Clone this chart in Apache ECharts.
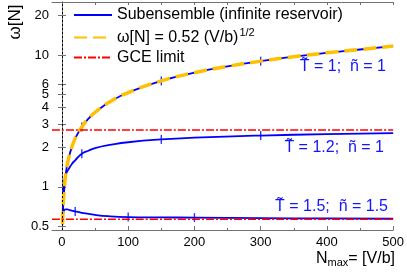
<!DOCTYPE html>
<html><head><meta charset="utf-8">
<script src="https://cdn.jsdelivr.net/npm/echarts@6/dist/echarts.min.js"></script>
<style>html,body{margin:0;padding:0;background:#fff}#c{width:407px;height:274px}</style>
</head><body><div id="c"></div>
<script>
// ---- data ----
var nT1 = [1, 2, 3, 5, 7, 10, 15, 20, 30, 40, 50, 75, 100, 150, 200, 250, 300, 350, 400, 450, 500];
var wT1 = [0.52, 0.74, 0.90, 1.16, 1.38, 1.64, 2.01, 2.33, 2.85, 3.29, 3.68, 4.5, 5.2, 6.37, 7.35, 8.22, 9.0, 9.73, 10.4, 11.03, 11.7];
var wFit = [0.52, 0.74, 0.90, 1.16, 1.38, 1.64, 2.01, 2.33, 2.85, 3.29, 3.68, 4.5, 5.2, 6.37, 7.35, 8.22, 9.0, 9.73, 10.4, 11.03, 11.7];
var nT12 = [1, 2, 3, 5, 7, 10, 15, 20, 30, 40, 50, 75, 100, 150, 200, 300, 400, 500];
var wT12 = [0.53, 0.90, 1.05, 1.20, 1.28, 1.36, 1.49, 1.59, 1.78, 1.88, 1.97, 2.09, 2.18, 2.29, 2.36, 2.45, 2.51, 2.56];
var nT15 = [1, 2, 3, 5, 8, 12, 20, 30, 50, 70, 100, 150, 200, 300, 400, 500];
var wT15 = [0.52, 0.62, 0.66, 0.675, 0.675, 0.665, 0.65, 0.635, 0.612, 0.598, 0.589, 0.586, 0.584, 0.579, 0.575, 0.572];
var markN1 = [30, 150, 300], markW1 = [2.85, 6.37, 9.0];
var markN12 = [30, 150, 300], markW12 = [1.78, 2.29, 2.45];
var markN15 = [20, 100, 200], markW15 = [0.65, 0.589, 0.584];
var gceHigh = 2.70, gceLow = 0.566;
var xTicks = [0, 100, 200, 300, 400, 500];
var xMinor = [50, 150, 250, 350, 450];
var xTop = [0, 50, 100, 150, 200, 250, 300, 350, 400, 450, 500];
var yTicks = [0.5, 1, 2, 3, 4, 5, 6, 10, 20];
var nameSub = 'Subensemble (infinite reservoir)';
var nameFit = 'ω[N] = 0.52 (V/b)^1/2';
var nameGce = 'GCE limit';

function zip(a, b) { return a.map(function (v, i) { return [v, b[i]]; }); }
var FONT = '"Liberation Sans", Arial, Helvetica, sans-serif';
var BLUE = '#0000ff', YEL = '#ffc000', RED = '#ff0000';
var chart = echarts.init(document.getElementById('c'), null, {renderer: 'canvas'});
var frame = {show: true, lineStyle: {color: '#707070', width: 1}};
function lineS(name, data, color, width, type, z) {
  return {type: 'line', name: name, data: data, symbol: 'none', showSymbol: false, smooth: true, z: z || 2,
    lineStyle: {color: color, width: width, type: type}, itemStyle: {color: color}, animation: false};
}
function marks(data) {
  return {type: 'scatter', data: data, symbol: 'rect', symbolSize: [1.4, 9], z: 3,
    itemStyle: {color: BLUE}, animation: false, silent: true};
}
var option = {
  animation: false,
  grid: {left: 52, right: 12, top: 2, bottom: 44, containLabel: false},
  legend: {
    orient: 'vertical', left: 68, top: 2, itemWidth: 38, itemHeight: 12, itemGap: 4,
    itemStyle: {opacity: 0},
    data: [nameSub, nameFit, nameGce],
    textStyle: {fontSize: 16, fontFamily: FONT, color: '#000',
      rich: {n: {fontSize: 16, fontFamily: FONT, color: '#000'},
             s: {fontSize: 11, fontFamily: FONT, color: '#000', verticalAlign: 'top', padding: [0, 0, 10, 1]}}},
    formatter: function (nm) { return nm === nameFit ? '{n|ω[N] = 0.52 (V/b)}{s|1/2}' : nm; }
  },
  xAxis: [
    {type: 'value', min: -15, max: 500, position: 'bottom', axisLine: frame, splitLine: {show: false},
      axisTick: {inside: true, length: 4, customValues: xTicks, lineStyle: {color: '#707070'}},
      axisLabel: {customValues: xTicks, fontSize: 13, fontFamily: FONT, color: '#000', margin: 6}},
    {type: 'value', min: -15, max: 500, position: 'bottom', axisLine: {show: false}, splitLine: {show: false},
      axisTick: {inside: true, length: 2, customValues: xMinor, lineStyle: {color: '#707070'}},
      axisLabel: {show: false}},
    {type: 'value', min: -15, max: 500, position: 'top', axisLine: frame, splitLine: {show: false},
      axisTick: {inside: true, length: 3, customValues: xTop, lineStyle: {color: '#707070'}},
      axisLabel: {show: false}}
  ],
  yAxis: [
    {type: 'log', min: 0.47, max: 25.3, position: 'left', axisLine: frame, splitLine: {show: false},
      axisTick: {inside: true, length: 4, customValues: yTicks, lineStyle: {color: '#707070'}},
      axisLabel: {customValues: yTicks, fontSize: 13, fontFamily: FONT, color: '#000', margin: 3,
        formatter: function (v) { return String(v); }}},
    {type: 'log', min: 0.47, max: 25.3, position: 'right', axisLine: frame, splitLine: {show: false},
      axisTick: {inside: true, length: 4, customValues: yTicks, lineStyle: {color: '#707070'}},
      axisLabel: {show: false}}
  ],
  series: [
    lineS(nameSub, zip(nT1, wT1), BLUE, 1.8, 'solid', 2),
    lineS(nameFit, zip(nT1, wFit), YEL, 3.5, [13, 6], 4),
    lineS(nameSub, zip(nT12, wT12), BLUE, 1.8, 'solid', 2),
    lineS(nameSub, zip(nT15, wT15), BLUE, 1.8, 'solid', 2),
    lineS(nameGce, [[-15, gceHigh], [500, gceHigh]], RED, 1.5, [8, 2, 2, 2], 5),
    lineS(nameGce, [[-15, gceLow], [500, gceLow]], RED, 1.5, [8, 2, 2, 2], 5),
    marks(zip(markN1, markW1)), marks(zip(markN12, markW12)), marks(zip(markN15, markW15)),
    {type: 'line', data: [], markLine: {silent: true, symbol: 'none', label: {show: false},
      lineStyle: {color: '#000', width: 1, type: [2, 2]}, data: [{xAxis: 0}]}}
  ],
  graphic: [
    {type: 'text', x: 15, y: 22, rotation: Math.PI / 2,
      style: {text: 'ω[N]', fontSize: 17, fontFamily: FONT, fill: '#000', align: 'center', verticalAlign: 'middle'}},
    {type: 'text', x: 395, y: 259,
      style: {text: '{a|N}{b|max}{a|= [V/b]}', align: 'right', verticalAlign: 'middle',
        rich: {a: {fontSize: 16, fontFamily: FONT, fill: '#000'},
               b: {fontSize: 11, fontFamily: FONT, fill: '#000', verticalAlign: 'bottom', padding: [8, 0, 0, 0]}}}},
    {type: 'text', x: 386, y: 67, style: {text: 'T\u0303 = 1;  n\u0303 = 1', fontSize: 16, fontFamily: FONT, fill: '#1414ff', align: 'right', verticalAlign: 'middle'}},
    {type: 'text', x: 384, y: 148, style: {text: 'T\u0303 = 1.2;  n\u0303 = 1', fontSize: 16, fontFamily: FONT, fill: '#1414ff', align: 'right', verticalAlign: 'middle'}},
    {type: 'text', x: 388, y: 207, style: {text: 'T\u0303 = 1.5;  n\u0303 = 1.5', fontSize: 16, fontFamily: FONT, fill: '#1414ff', align: 'right', verticalAlign: 'middle'}}
  ]
};
chart.setOption(option);
</script></body></html>
